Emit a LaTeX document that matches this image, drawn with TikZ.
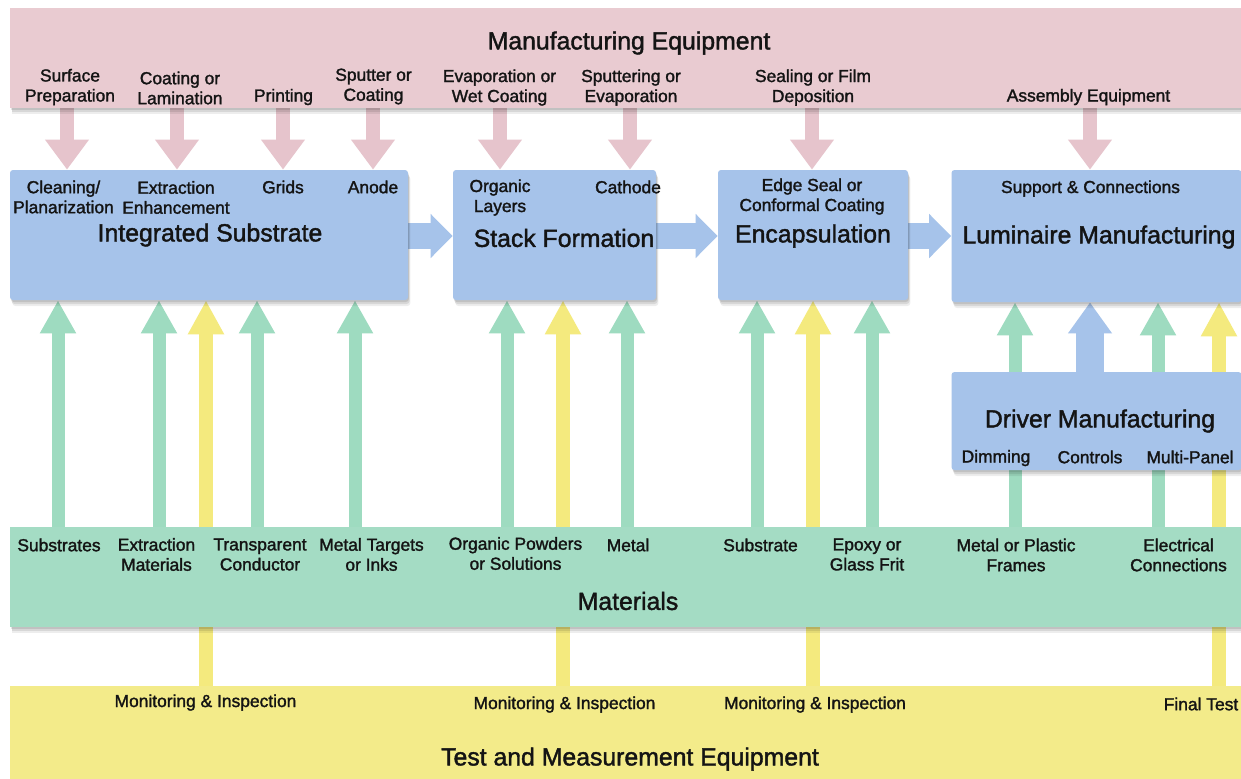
\documentclass[tikz,border=0pt]{standalone}
\usepackage{fontspec}
\setmainfont{Liberation Sans}[BoldFont=Liberation Sans,BoldFeatures={FakeBold=1.6}]
\usetikzlibrary{arrows.meta,shadows}
\definecolor{pinkband}{RGB}{233,203,209}
\definecolor{pinkarrow}{RGB}{230,196,204}
\definecolor{boxblue}{RGB}{166,195,234}
\definecolor{matgreen}{RGB}{164,220,196}
\definecolor{greenarrow}{RGB}{158,219,192}
\definecolor{testyellow}{RGB}{243,235,138}
\definecolor{yellowarrow}{RGB}{244,234,126}
\definecolor{txt}{RGB}{20,20,20}
\pgfdeclarelayer{bg}
\pgfsetlayers{bg,main}
\tikzset{
  shadowed/.style={
    general shadow={shadow xshift=1.2pt,shadow yshift=-3pt,fill=black,opacity=0.07},
    general shadow={shadow xshift=0.8pt,shadow yshift=-2pt,fill=black,opacity=0.09},
    general shadow={shadow xshift=0.4pt,shadow yshift=-1pt,fill=black,opacity=0.10}},
  band/.style={inner sep=0pt,minimum width=615.5pt,minimum height=50pt,shadowed},
  bluebox/.style={fill=boxblue,inner sep=0pt,rounded corners=1.5pt,shadowed},
  lbl/.style={inner sep=0pt,align=center,text=txt,font=\fontsize{8.7}{10}\selectfont\bfseries},
  ttl/.style={inner sep=0pt,text=txt,font=\fontsize{12.4}{14}\selectfont\bfseries},
  pinkarr/.style={draw=pinkarrow,line width=7pt,-{Triangle[width=21pt,length=15pt]}},
  greenarr/.style={draw=greenarrow,line width=6.5pt,-{Triangle[width=17pt,length=16.5pt]}},
  yellowarr/.style={draw=yellowarrow,line width=7pt,-{Triangle[width=17pt,length=17pt]}},
  bluearrv/.style={draw=boxblue,line width=14pt,-{Triangle[width=21pt,length=15.5pt]}},
  bluearrh/.style={draw=boxblue,line width=13pt,-{Triangle[width=21.5pt,length=11pt]}}
}
\begin{document}
\begin{tikzpicture}[x=0.5pt,y=-0.5pt]
\useasboundingbox (0,0) rectangle (1241,778);
% bands and boxes
\node[band,fill=pinkband] (equip) at (625.5,58) {};
\node[band,fill=matgreen] (mat) at (625.5,577) {};
\node[band,fill=testyellow,minimum height=52pt] (test) at (625.5,738) {};
\node[bluebox,minimum width=199pt,minimum height=65pt] (is) at (209,235) {};
\node[bluebox,minimum width=101.5pt,minimum height=65pt] (sf) at (554.5,235) {};
\node[bluebox,minimum width=95pt,minimum height=65pt] (enc) at (813,235) {};
\node[bluebox,minimum width=145pt,minimum height=66pt] (lum) at (1096.5,236) {};
\node[bluebox,minimum width=145pt,minimum height=49pt] (drv) at (1096.5,421) {};
% titles
\node[ttl] (tEquip) at (629,43) {Manufacturing Equipment};
\node[ttl] (tIS) at (210,235) {Integrated Substrate};
\node[ttl] (tSF) at (564,238) {Stack Formation};
\node[ttl] (tEnc) at (813,236) {Encapsulation};
\node[ttl] (tLum) at (1099,237) {Luminaire Manufacturing};
\node[ttl] (tDrv) at (1100,421) {Driver Manufacturing};
\node[ttl] (tMat) at (628,601) {Materials};
\node[ttl] (tTest) at (630,759) {Test and Measurement Equipment};
% equipment labels
\node[lbl] (eSurf) at (70,87) {Surface\\Preparation};
\node[lbl] (eCoat) at (180,88) {Coating or\\Lamination};
\node[lbl] (ePrint) at (283.5,97) {Printing};
\node[lbl] (eSput) at (373.5,86.5) {Sputter or\\Coating};
\node[lbl] (eEvap) at (499.5,87.5) {Evaporation or\\Wet Coating};
\node[lbl] (eSpE) at (631,87.5) {Sputtering or\\Evaporation};
\node[lbl] (eSeal) at (813,87.5) {Sealing or Film\\Deposition};
\node[lbl] (eAsm) at (1088.5,97) {Assembly Equipment};
% box labels
\node[lbl] (bClean) at (63.5,197) {Cleaning/\\Planarization};
\node[lbl] (bExt) at (176,197.5) {Extraction\\Enhancement};
\node[lbl] (bGrid) at (283,187) {Grids};
\node[lbl] (bAnode) at (373,187) {Anode};
\node[lbl] (bOrg) at (500,197.5) {Organic\\Layers};
\node[lbl] (bCath) at (628,187) {Cathode};
\node[lbl] (bEdge) at (812,196.5) {Edge Seal or\\Conformal Coating};
\node[lbl] (bSupp) at (1090.5,188.5) {Support \& Connections};
\node[lbl] (bDim) at (996,458) {Dimming};
\node[lbl] (bCtl) at (1090,457) {Controls};
\node[lbl] (bMP) at (1190,457) {Multi-Panel};
% material labels
\node[lbl] (mSub) at (59,545) {Substrates};
\node[lbl] (mExt) at (156.5,554.5) {Extraction\\Materials};
\node[lbl] (mTC) at (260,554.5) {Transparent\\Conductor};
\node[lbl] (mMT) at (371.5,554.5) {Metal Targets\\or Inks};
\node[lbl] (mOrg) at (515.5,553.5) {Organic Powders\\or Solutions};
\node[lbl] (mMet) at (628,545) {Metal};
\node[lbl] (mSubs) at (760.5,545) {Substrate};
\node[lbl] (mEpx) at (867,554.5) {Epoxy or\\Glass Frit};
\node[lbl] (mFrm) at (1016,555) {Metal or Plastic\\Frames};
\node[lbl] (mElec) at (1178.5,555) {Electrical\\Connections};
% test labels
\node[lbl] (tMon1) at (205.5,702.5) {Monitoring \& Inspection};
\node[lbl] (tMon2) at (564.5,704.5) {Monitoring \& Inspection};
\node[lbl] (tMon3) at (815,704.5) {Monitoring \& Inspection};
\node[lbl] (tFinal) at (1201,704) {Final Test};
% x positions of connectors
\coordinate (pA) at (67,0);
\coordinate (pB) at (177,0);
\coordinate (pC) at (283,0);
\coordinate (pD) at (373,0);
\coordinate (pE) at (500,0);
\coordinate (pF) at (630,0);
\coordinate (pG) at (812,0);
\coordinate (pH) at (1090,0);
\coordinate (gA) at (58,0);
\coordinate (gB) at (159,0);
\coordinate (gC) at (257,0);
\coordinate (gD) at (355,0);
\coordinate (gE) at (507,0);
\coordinate (gF) at (627,0);
\coordinate (gG) at (757,0);
\coordinate (gH) at (872,0);
\coordinate (gI) at (1015,0);
\coordinate (gJ) at (1158,0);
\coordinate (yA) at (206,0);
\coordinate (yB) at (563,0);
\coordinate (yC) at (813,0);
\coordinate (yD) at (1219,0);
\coordinate (flow) at (0,236);
\begin{pgfonlayer}{bg}
\fill[white] (0,0) rectangle (1241,778);
\foreach \c/\b in {pA/is,pB/is,pC/is,pD/is,pE/sf,pF/sf,pG/enc,pH/lum}
  \draw[pinkarr] (\c |- equip.south) -- (\c |- \b.north);
\foreach \c/\b in {gA/is,gB/is,gC/is,gD/is,gE/sf,gF/sf,gG/enc,gH/enc,gI/lum,gJ/lum}
  \draw[greenarr] (\c |- mat.north) -- (\c |- \b.south);
\foreach \c/\b in {yA/is,yB/sf,yC/enc,yD/lum}
  \draw[yellowarr] (\c |- test.north) -- (\c |- \b.south);
\draw[bluearrv] (pH |- drv.north) -- (pH |- lum.south);
\draw[bluearrh] (is.east |- flow) -- (sf.west |- flow);
\draw[bluearrh] (sf.east |- flow) -- (enc.west |- flow);
\draw[bluearrh] (enc.east |- flow) -- (lum.west |- flow);
\end{pgfonlayer}
\end{tikzpicture}
\end{document}
